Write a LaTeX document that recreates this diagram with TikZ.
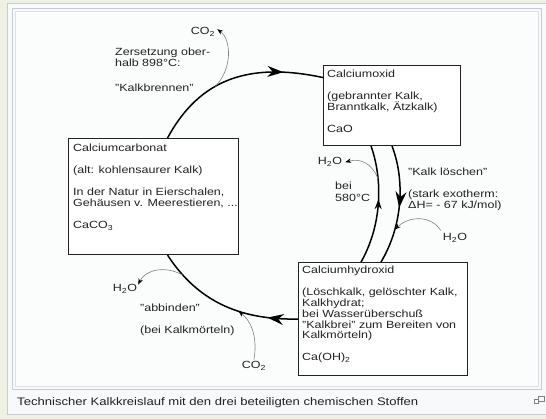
\documentclass[tikz,border=0pt]{standalone}
\usepackage{fontspec}
\setmainfont{Liberation Sans}[FakeStretch=1.2]
\usetikzlibrary{arrows.meta,decorations.markings}
\definecolor{pagebg}{HTML}{EEF1E4}
\definecolor{framebg}{HTML}{F8F9FA}
\definecolor{frameline}{HTML}{C8CCD1}
\definecolor{ink}{HTML}{222222}
\newcommand\diafont{\fontsize{10.4}{11}\selectfont}

\begin{document}
\begin{tikzpicture}[x=1pt,y=-1pt,
  box/.style={draw=ink,line width=1.1pt,fill=white,inner sep=0pt,anchor=north west},
  txt/.style={font=\diafont,text=ink,align=left,inner sep=0pt,anchor=base west},
  reac/.style={draw=black,line width=1.5pt},
  aux/.style={draw=gray,line width=0.6pt,-{Stealth[length=6pt,width=4.5pt,color=black]}},
  tipat/.style 2 args={postaction={decorate},decoration={markings,mark=at position #1 with {\arrow{Stealth[#2]}}}}]
\fill[pagebg] (0,0) rectangle (546,419);
\useasboundingbox (0,0) rectangle (546,419);
\filldraw[fill=framebg,draw=frameline] (7.5,3.5) rectangle (552,414.5);
\filldraw[fill=framebg,draw=frameline] (12.5,8.5) rectangle (541.5,389.5);
\filldraw[fill=white!50!framebg,draw=frameline!60] (15.5,11.5) rectangle (538.5,386.5);

% the three substances (text nodes sit on their last baseline)
\node[box,minimum width=170pt,minimum height=116pt] (cc) at (68,138) {};
\node[box,minimum width=137pt,minimum height=80pt] (cao) at (323,65) {};
\node[box,minimum width=169pt,minimum height=113pt] (coh) at (298,262) {};
\node[txt] (cctext) at (73,229) {Calciumcarbonat\\[11pt] (alt: kohlensaurer Kalk)\\[11pt] In der Natur in Eierschalen,\\ Gehäusen v. Meerestieren, ...\\[11pt] CaCO\textsubscript{3}};
\node[txt] (caotext) at (327,133) {Calciumoxid\\[11pt] (gebrannter Kalk,\\ Branntkalk, Ätzkalk)\\[11pt] CaO};
\node[txt] (cohtext) at (302,361) {Calciumhydroxid\\[11pt] (Löschkalk, gelöschter Kalk,\\ Kalkhydrat;\\ bei Wasserüberschuß\\ "Kalkbrei" zum Bereiten von\\ Kalkmörteln)\\[11pt] Ca(OH)\textsubscript{2}};

% labels
\node[txt,anchor=base] (co2top) at (203,35) {CO\textsubscript{2}};
\node[txt] (brennen) at (115,92) {Zersetzung ober-\\ halb 898°C:\\[14pt] "Kalkbrennen"};
\node[txt,anchor=base] (h2oA) at (330,165) {H\textsubscript{2}O};
\node[txt] (bei) at (335,202) {bei\\[1pt] 580°C};
\node[txt] (loeschen) at (408,209) {"Kalk löschen"\\[11pt] (stark exotherm:\\ ΔH= - 67 kJ/mol)};
\node[txt,anchor=base] (h2oB) at (455,241) {H\textsubscript{2}O};
\node[txt,anchor=base] (h2oC) at (125,292) {H\textsubscript{2}O};
\node[txt] (abbinden) at (140,334) {"abbinden"\\[11pt] (bei Kalkmörteln)};
\node[txt,anchor=base] (co2bot) at (254,369) {CO\textsubscript{2}};

% cycle
\draw[reac,tipat={0.78}{length=16pt,width=11pt}] ([xshift=14pt]cc.north) .. controls (200,78) and (250,62) .. ([yshift=28pt]cao.west) coordinate[pos=0.4] (brennpt);
\draw[reac,tipat={0.52}{length=16pt,width=11pt}] (cao.south) .. controls (405,180) and (403,225) .. ([xshift=-2pt]coh.north) coordinate[pos=0.72] (loeschpt);
\draw[reac,tipat={0.55}{length=10pt,width=7pt}] ([xshift=-22pt]coh.north) .. controls (382,225) and (383,180) .. ([xshift=-21pt]cao.south) coordinate[pos=0.7] (brennApt);
\draw[reac,tipat={0.2}{length=16pt,width=11pt}] (coh.west) .. controls (245,320) and (200,305) .. ([xshift=14pt]cc.south) coordinate[pos=0.4] (co2pt) coordinate[pos=0.85] (wasserpt);

% side products
\draw[aux] (brennpt) .. controls (232,70) and (232,40) .. ([xshift=2pt,yshift=3pt]co2top.east);
\draw[aux] (brennApt) .. controls (372,163) and (360,158) .. ([xshift=3pt]h2oA.east);
\draw[aux] ([xshift=-2pt,yshift=3pt]h2oB.north west) .. controls (432,216) and (410,215) .. (loeschpt);
\draw[aux] (wasserpt) .. controls (165,265) and (145,270) .. ([xshift=1pt]h2oC.north east);
\draw[aux] ([yshift=2pt]co2bot.north) .. controls (258,335) and (250,320) .. (co2pt);

\node[txt,font=\fontsize{10.9}{12}\selectfont] (caption) at (17,405) {Technischer Kalkkreislauf mit den drei beteiligten chemischen Stoffen};
\draw[gray] (538.5,396.5) rectangle (544.5,401.5);
\filldraw[fill=white,draw=gray] (534.5,399.5) rectangle (538.5,403.5);
\end{tikzpicture}
\end{document}
